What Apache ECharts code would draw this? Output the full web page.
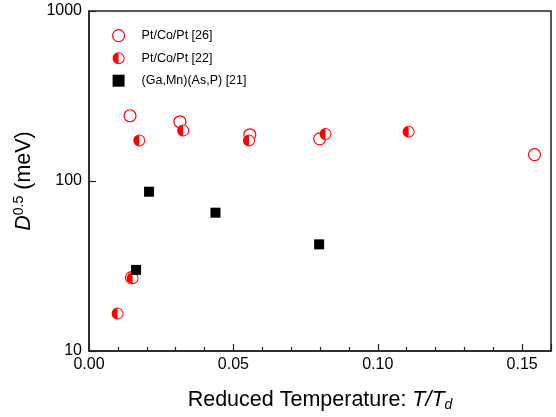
<!DOCTYPE html>
<html>
<head>
<meta charset="utf-8">
<script src="https://cdn.jsdelivr.net/npm/echarts@6/dist/echarts.min.js"></script>
<style>
html, body { margin: 0; padding: 0; background: #fff; }
#chart { width: 556px; height: 417px; }
</style>
</head>
<body>
<div id="chart"></div>
<script>
// Pt/Co/Pt [26] - open circles
var openX = [0.0147, 0.0142, 0.0315, 0.0557, 0.0799, 0.1543];
var openY = [27, 242, 223, 187, 177, 143];
// Pt/Co/Pt [22] - half filled circles
var halfX = [0.0099, 0.0151, 0.0174, 0.0326, 0.0554, 0.0819, 0.1107];
var halfY = [16.6, 26.8, 173, 198, 173, 189, 195];
// (Ga,Mn)(As,P) [21] - squares
var sqX = [0.0163, 0.0208, 0.0438, 0.0797];
var sqY = [30.0, 86.5, 65.1, 42.4];

var xTicks = [0, 0.05, 0.10, 0.15];
var yTicks = [10, 100, 1000];

function pairs(xs, ys){
    var out = [];
    for(var i=0; i<xs.length; i++){
        out.push([xs[i], ys[i]]);
    }
    return out;
}

// ring + left half disc, filled with one colour
var halfIcon = 'path://M0,10 A10,10 0 1,1 20,10 A10,10 0 1,1 0,10 Z ' +
    'M1.6,10 A8.4,8.4 0 1,0 18.4,10 A8.4,8.4 0 1,0 1.6,10 Z ' +
    'M10,20 A10,10 0 0,1 10,0 Z';

var font = '"Liberation Sans", Arial, sans-serif';

var chart = echarts.init(document.getElementById('chart'));

var option = {
    animation: false,
    backgroundColor: '#fff',
    grid: {
        left: 89, right: 5, top: 11, bottom: 65,
        show: true,
        borderColor: '#222',
        borderWidth: 1.5
    },
    legend: {
        orient: 'vertical',
        left: 107,
        top: 24,
        itemWidth: 12,
        itemHeight: 12,
        itemGap: 9.5,
        itemStyle: { borderWidth: 1.2 },
        textStyle: { fontFamily: font, fontSize: 12.5, color: '#000', padding: [0, 0, 0, 12] },
        data: ['Pt/Co/Pt [26]', 'Pt/Co/Pt [22]', '(Ga,Mn)(As,P) [21]']
    },
    xAxis: {
        type: 'value',
        min: 0,
        max: 0.16,
        interval: 0.05,
        name: 'Reduced Temperature: {i|T/T}{sub|d}',
        nameLocation: 'middle',
        nameGap: 37,
        nameTextStyle: {
            fontFamily: font, fontSize: 21.5, color: '#000',
            rich: {
                i: { fontFamily: font, fontSize: 21.5, fontStyle: 'italic', color: '#000' },
                sub: { fontFamily: font, fontSize: 14, fontStyle: 'italic', color: '#000', padding: [10, 0, 0, 0] }
            }
        },
        splitLine: { show: false },
        axisLine: { lineStyle: { color: '#222', width: 1.5 } },
        axisTick: { inside: true, length: 7, lineStyle: { color: '#222', width: 1.2 } },
        minorTick: { show: true, splitNumber: 5, length: 4, lineStyle: { color: '#222', width: 1.2 } },
        axisLabel: {
            fontFamily: font, fontSize: 16, color: '#000', margin: 6,
            showMaxLabel: false,
            formatter: function(v){
                for(var k=0; k<xTicks.length; k++){
                    if(Math.abs(v - xTicks[k]) < 1e-9) return xTicks[k].toFixed(2);
                }
                return '';
            }
        }
    },
    yAxis: {
        type: 'log',
        logBase: 10,
        min: 10,
        max: 1000,
        name: '{i|D}{sup|0.5} (meV)',
        nameLocation: 'middle',
        nameGap: 48,
        nameTextStyle: {
            fontFamily: font, fontSize: 21.5, color: '#000',
            rich: {
                i: { fontFamily: font, fontSize: 21.5, fontStyle: 'italic', color: '#000' },
                sup: { fontFamily: font, fontSize: 14, color: '#000', padding: [0, 0, 10, 0] }
            }
        },
        splitLine: { show: false },
        axisLine: { lineStyle: { color: '#222', width: 1.5 } },
        axisTick: { inside: true, length: 7, lineStyle: { color: '#222', width: 1.2 } },
        axisLabel: {
            fontFamily: font, fontSize: 16, color: '#000', margin: 7,
            formatter: function(v){
                for(var k=0; k<yTicks.length; k++){
                    if(Math.abs(v - yTicks[k]) < 1e-6) return String(yTicks[k]);
                }
                return '';
            }
        }
    },
    series: [
        {
            name: 'Pt/Co/Pt [26]',
            type: 'scatter',
            symbol: 'circle',
            symbolSize: 12,
            itemStyle: { color: '#fff', borderColor: '#ff0000', borderWidth: 1.2, opacity: 1 },
            data: pairs(openX, openY)
        },
        {
            name: 'bg22',
            type: 'scatter',
            symbol: 'circle',
            symbolSize: 12,
            silent: true,
            itemStyle: { color: '#fff', opacity: 1 },
            data: pairs(halfX, halfY)
        },
        {
            name: 'Pt/Co/Pt [22]',
            type: 'scatter',
            symbol: halfIcon,
            symbolSize: 12,
            itemStyle: { color: '#ff0000', opacity: 1 },
            data: pairs(halfX, halfY)
        },
        {
            name: '(Ga,Mn)(As,P) [21]',
            type: 'scatter',
            symbol: 'rect',
            symbolSize: 10,
            itemStyle: { color: '#000', opacity: 1 },
            data: pairs(sqX, sqY)
        }
    ]
};

chart.setOption(option);
</script>
</body>
</html>
